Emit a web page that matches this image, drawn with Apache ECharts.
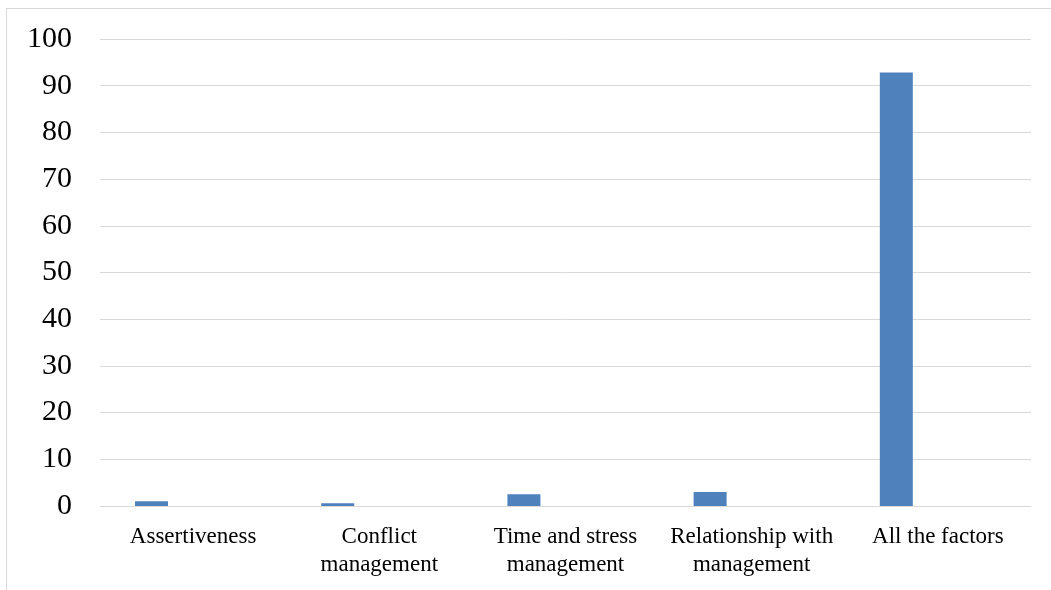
<!DOCTYPE html>
<html>
<head>
<meta charset="utf-8">
<script src="https://cdn.jsdelivr.net/npm/echarts@6/dist/echarts.min.js"></script>
<style>
  html, body { margin: 0; padding: 0; background: #fff; }
  #frame { position: absolute; left: 6px; top: 8px; width: 1100px; height: 640px; border: 1px solid #d9d9d9; box-sizing: border-box; }
  #chart { position: absolute; left: 0; top: 0; width: 1051px; height: 590px; }
</style>
</head>
<body>
<div id="frame"></div>
<div id="chart"></div>
<script>
// Factor categories and their percentages
const categories = [
  'Assertiveness',
  'Conflict\nmanagement',
  'Time and stress\nmanagement',
  'Relationship with\nmanagement',
  'All the factors'
];
const values = [1.0, 0.6, 2.5, 3.0, 92.8];
// second slot in each cluster is left empty
const emptySlot = [null, null, null, null, null];
const yTicks = { min: 0, max: 100, interval: 10 };

const chart = echarts.init(document.getElementById('chart'), null, { renderer: 'canvas' });
const serif = '"Liberation Serif", "Times New Roman", serif';

chart.setOption({
  animation: false,
  grid: { left: 100, right: 20, top: 39, bottom: 84, containLabel: false },
  xAxis: {
    type: 'category',
    data: categories,
    axisLine: { show: true, lineStyle: { color: '#d9d9d9', width: 1 } },
    axisTick: { show: false },
    axisLabel: {
      color: '#000', fontFamily: serif, fontSize: 23, lineHeight: 28,
      margin: 17, interval: 0
    }
  },
  yAxis: {
    type: 'value',
    min: yTicks.min, max: yTicks.max, interval: yTicks.interval,
    axisLine: { show: false },
    axisTick: { show: false },
    splitLine: { lineStyle: { color: '#d9d9d9', width: 1 } },
    axisLabel: { color: '#000', fontFamily: serif, fontSize: 30, margin: 28 }
  },
  series: [
    {
      type: 'bar', data: values, barWidth: 33, barGap: '152%',
      itemStyle: { color: '#4f81bd' }
    },
    {
      type: 'bar', data: emptySlot, barWidth: 33,
      itemStyle: { color: '#c0504d' }
    }
  ]
});
</script>
</body>
</html>
